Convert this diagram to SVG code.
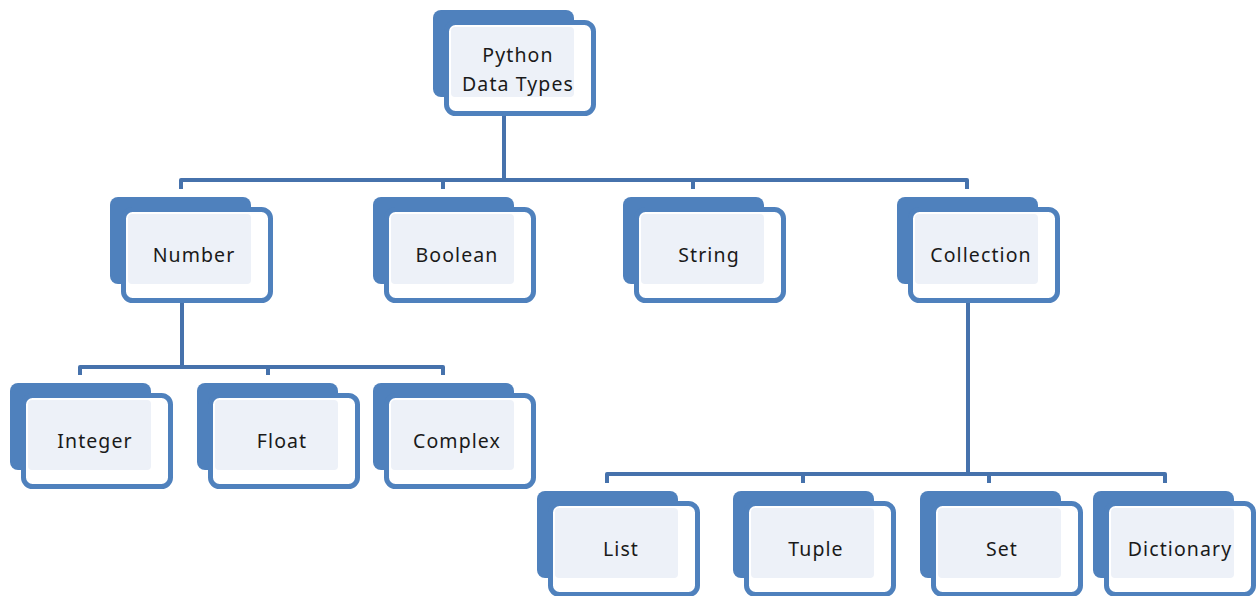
<svg xmlns="http://www.w3.org/2000/svg" xmlns:xlink="http://www.w3.org/1999/xlink" width="1258" height="596" viewBox="0 0 1258 596">
  <style>
    .back { fill: #4F81BD; }
    .front { fill: #FFFFFF; stroke: #4F81BD; stroke-width: 5; }
    .light { fill: #EDF1F8; }
    .conn { fill: none; stroke: #4672AC; stroke-width: 4; stroke-linejoin: round; stroke-linecap: butt; }
    .label { font-family: "Noto Sans", "DejaVu Sans", sans-serif; font-size: 19.5px; letter-spacing: 1.1px; fill: #1A1A1A; text-anchor: middle; }
  </style>
  <defs>
    <g id="box">
      <rect class="back" x="0" y="0" width="141" height="87" rx="8"/>
      <rect class="front" x="13.5" y="12.5" width="147" height="91" rx="9"/>
      <rect class="light" x="18" y="17" width="123" height="70" rx="4"/>
    </g>
  </defs>
  <rect width="1258" height="596" fill="#FFFFFF"/>
  <g id="connectors">
    <path class="conn" d="M504,116 V180"/>
    <path class="conn" d="M181,189 V180 H967 V189"/>
    <path class="conn" d="M443,180 V189 M693,180 V189"/>
    <path class="conn" d="M182,302 V367"/>
    <path class="conn" d="M80,375 V367 H443 V375 M268,367 V375"/>
    <path class="conn" d="M968,303 V474"/>
    <path class="conn" d="M607,483 V474 H1165 V483 M803,474 V483 M989,474 V483"/>
  </g>
  <g id="node-python" transform="translate(433,10)">
    <use xlink:href="#box"/>
    <text class="label" x="85" y="52">Python</text>
    <text class="label" x="85" y="81">Data Types</text>
  </g>
  <g id="node-number" transform="translate(110,197)">
    <use xlink:href="#box"/>
    <text class="label" x="84" y="65">Number</text>
  </g>
  <g id="node-boolean" transform="translate(373,197)">
    <use xlink:href="#box"/>
    <text class="label" x="84" y="65">Boolean</text>
  </g>
  <g id="node-string" transform="translate(623,197)">
    <use xlink:href="#box"/>
    <text class="label" x="86" y="65">String</text>
  </g>
  <g id="node-collection" transform="translate(897,197)">
    <use xlink:href="#box"/>
    <text class="label" x="84" y="65">Collection</text>
  </g>
  <g id="node-integer" transform="translate(10,383)">
    <use xlink:href="#box"/>
    <text class="label" x="85" y="65">Integer</text>
  </g>
  <g id="node-float" transform="translate(197,383)">
    <use xlink:href="#box"/>
    <text class="label" x="85" y="65">Float</text>
  </g>
  <g id="node-complex" transform="translate(373,383)">
    <use xlink:href="#box"/>
    <text class="label" x="84" y="65">Complex</text>
  </g>
  <g id="node-list" transform="translate(537,491)">
    <use xlink:href="#box"/>
    <text class="label" x="84" y="65">List</text>
  </g>
  <g id="node-tuple" transform="translate(733,491)">
    <use xlink:href="#box"/>
    <text class="label" x="83" y="65">Tuple</text>
  </g>
  <g id="node-set" transform="translate(920,491)">
    <use xlink:href="#box"/>
    <text class="label" x="82" y="65">Set</text>
  </g>
  <g id="node-dictionary" transform="translate(1093,491)">
    <use xlink:href="#box"/>
    <text class="label" x="87" y="65">Dictionary</text>
  </g>
</svg>
